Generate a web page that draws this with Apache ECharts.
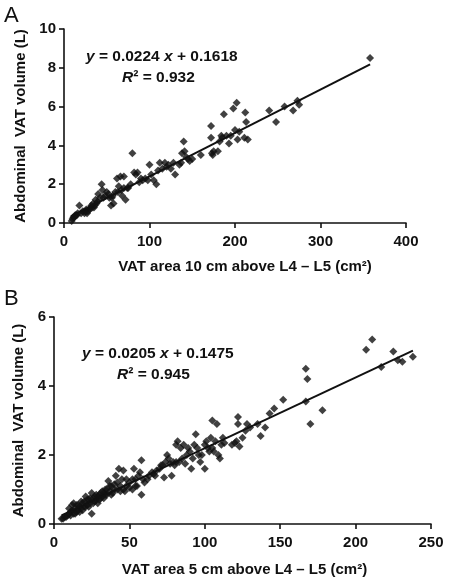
<!DOCTYPE html>
<html>
<head>
<meta charset="utf-8">
<script src="https://cdn.jsdelivr.net/npm/echarts@6/dist/echarts.min.js"></script>
<style>html,body{margin:0;padding:0;background:#fff}#c{width:451px;height:586px}</style>
</head>
<body>
<div id="c"></div>
<script>
// Panel A: VAT area 10 cm above L4-L5 (cm2) vs abdominal VAT volume (L)
const aX = [358,275,273,268,258,248,240,212,213,211,215,202,198,203,200,195,187,190,184,182,180,193,172,172,175,174,173,160,140,138,141,145,147,143,135,137,130,128,125,122,120,118,115,112,108,105,100,102,98,95,92,86,84,82,88,80,70,72,68,66,70,62,64,75,78,60,58,55,57,52,50,48,45,44,42,40,38,36,35,33,31,30,28,26,24,22,20,18,16,14,12,10,9,11,13,15,25,27,32,34,37,39,46,53,56,63,67,74,90,110,150,185,205];
const aY = [8.5,6.1,6.3,5.8,6.0,5.2,5.8,5.7,5.2,4.4,4.3,6.2,5.9,4.3,4.8,4.5,5.6,4.5,4.5,4.2,3.7,4.1,5.0,4.4,3.7,3.5,3.6,3.5,4.2,3.6,3.7,3.3,3.2,3.4,3.0,3.1,2.5,3.1,2.8,3.0,2.9,3.1,2.8,3.1,2.0,2.2,3.0,2.5,2.2,2.3,2.2,2.6,2.5,2.6,2.1,3.6,1.8,1.2,1.4,2.4,2.4,2.3,1.9,1.8,2.0,1.6,1.0,0.9,1.4,1.5,1.6,1.4,1.7,2.0,1.3,1.5,1.0,0.9,0.8,0.8,0.8,0.7,0.6,0.7,0.5,0.6,0.5,0.9,0.5,0.4,0.3,0.2,0.1,0.3,0.4,0.4,0.6,0.5,0.9,1.0,1.2,1.1,1.3,1.3,1.3,1.6,1.7,1.8,2.3,2.7,3.3,4.4,4.7];
const aSlope = 0.0224, aIntercept = 0.1618, aLineX = [8, 358];

// Panel B: VAT area 5 cm above L4-L5 (cm2) vs abdominal VAT volume (L)
const bX = [238,231,228,225,217,211,207,178,170,168,167,167,152,146,143,140,137,128,127,125,122,122,121,123,120,112,111,110,108,107,105,105,104,103,101,100,100,98,96,94,93,92,91,90,88,86,85,84,82,81,81,80,79,78,76,75,74,73,72,70,67,65,63,60,59,58,58,57,56,55,54,53,52,50,48,47,46,45,44,43,42,41,40,39,38,37,36,35,34,33,32,31,30,29,28,27,26,25,25,24,23,22,21,20,19,18,18,17,16,15,15,14,13,13,12,12,11,11,10,10,9,8,7,6,5,14,16,17,19,20,21,22,23,24,26,27,28,29,30,31,32,33,34,35,37,38,40,42,44,46,48,50,52,54,62,66,68,71,77,83,87,89,95,97,102,106,109,113,118,130,135];
const bY = [4.85,4.7,4.75,5.0,4.55,5.35,5.05,3.3,2.9,4.2,4.5,3.55,3.6,3.35,3.2,2.8,2.55,2.9,2.7,2.5,3.1,2.9,2.4,2.25,2.35,2.5,2.3,1.9,2.9,2.4,3.0,2.2,2.5,2.1,2.4,2.3,1.6,2.0,2.0,2.6,2.3,1.9,1.6,2.1,2.0,2.3,1.9,2.2,2.4,2.3,1.8,1.7,1.8,1.4,1.9,2.0,1.8,1.35,1.7,1.6,1.4,1.5,1.4,1.2,1.3,1.85,0.85,1.5,1.4,1.1,1.3,1.6,1.0,1.2,1.1,0.95,1.55,1.3,1.1,1.6,1.0,1.4,1.0,0.9,1.1,0.95,1.25,0.85,1.0,0.9,0.8,0.75,0.85,0.8,0.7,0.65,0.75,0.9,0.3,0.6,0.7,0.55,0.8,0.5,0.6,0.45,0.65,0.5,0.4,0.55,0.35,0.45,0.3,0.6,0.4,0.55,0.35,0.25,0.3,0.45,0.25,0.2,0.2,0.15,0.15,0.3,0.55,0.35,0.4,0.65,0.5,0.7,0.5,0.75,0.6,0.8,0.85,0.6,0.7,0.9,0.95,0.75,0.85,1.0,1.1,0.85,1.15,1.2,0.95,1.0,1.3,1.05,1.3,1.1,1.3,1.45,1.55,1.7,1.75,1.8,1.75,2.2,2.2,1.8,2.2,2.1,2.0,2.35,2.3,2.8,2.9];
const bSlope = 0.0205, bIntercept = 0.1475, bLineX = [5, 238];

const aTicksX = [0, 100, 200, 300, 400];
const aTicksY = [0, 2, 4, 6, 8, 10];
const bTicksX = [0, 50, 100, 150, 200, 250];
const bTicksY = [0, 2, 4, 6];

const FONT = '"Liberation Sans", Arial, sans-serif';
const zip = (xs, ys) => xs.map((x, i) => [x, ys[i]]);
const fit = (xs, m, c) => xs.map(x => [x, m * x + c]);

function xAxis(grid, ticks, name, pad, gap) {
  return {
    gridIndex: grid, type: 'value', min: ticks[0], max: ticks[ticks.length - 1],
    interval: ticks[1] - ticks[0],
    name: name, nameLocation: 'middle', nameGap: gap,
    nameTextStyle: { fontFamily: FONT, fontWeight: 'bold', fontSize: 15, color: '#111', padding: pad },
    axisLine: { lineStyle: { color: '#111', width: 1.6 } },
    axisTick: { inside: false, length: 5, lineStyle: { color: '#111', width: 1.6 } },
    axisLabel: { fontFamily: FONT, fontWeight: 'bold', fontSize: 15, color: '#111', margin: 11 },
    splitLine: { show: false }
  };
}
function yAxis(grid, ticks, name, gap) {
  return {
    gridIndex: grid, type: 'value', min: ticks[0], max: ticks[ticks.length - 1],
    interval: ticks[1] - ticks[0],
    name: name, nameLocation: 'middle', nameGap: gap, nameRotate: 90,
    nameTextStyle: { fontFamily: FONT, fontWeight: 'bold', fontSize: 15, color: '#111' },
    axisLine: { show: true, lineStyle: { color: '#111', width: 1.6 } },
    axisTick: { show: true, inside: false, length: 5, lineStyle: { color: '#111', width: 1.6 } },
    axisLabel: { fontFamily: FONT, fontWeight: 'bold', fontSize: 15, color: '#111', margin: 8 },
    splitLine: { show: false }
  };
}

const chart = echarts.init(document.getElementById('c'), null, { renderer: 'canvas' });
const rich = {
  n: { fontFamily: FONT, fontWeight: 'bold', fontSize: 15.5, fill: '#111' },
  i: { fontFamily: FONT, fontWeight: 'bold', fontStyle: 'italic', fontSize: 15.5, fill: '#111' }
};
function eqText(x, y, str) {
  return { type: 'text', left: x, top: y, style: { text: str, rich: rich, fill: '#111', font: 'bold 15.5px ' + FONT } };
}
chart.setOption({
  animation: false,
  grid: [
    { left: 64, right: 45, top: 29, height: 194 },
    { left: 54, right: 20, top: 317, height: 207 }
  ],
  xAxis: [
    xAxis(0, aTicksX, 'VAT area 10 cm above L4 – L5 (cm²)', [0, 0, 0, 20], 36),
    xAxis(1, bTicksX, 'VAT area 5 cm above L4 – L5 (cm²)', [0, 0, 0, 4], 38)
  ],
  yAxis: [
    yAxis(0, aTicksY, 'Abdominal  VAT volume (L)', 36),
    yAxis(1, bTicksY, 'Abdominal  VAT volume (L)', 26)
  ],
  series: [
    { type: 'scatter', xAxisIndex: 0, yAxisIndex: 0, data: zip(aX, aY), symbol: 'diamond', symbolSize: 8, itemStyle: { color: '#111' } },
    { type: 'line', xAxisIndex: 0, yAxisIndex: 0, data: fit(aLineX, aSlope, aIntercept), symbol: 'none', lineStyle: { color: '#111', width: 2 } },
    { type: 'scatter', xAxisIndex: 1, yAxisIndex: 1, data: zip(bX, bY), symbol: 'diamond', symbolSize: 8, itemStyle: { color: '#111' } },
    { type: 'line', xAxisIndex: 1, yAxisIndex: 1, data: fit(bLineX, bSlope, bIntercept), symbol: 'none', lineStyle: { color: '#111', width: 2 } }
  ],
  graphic: [
    { type: 'text', left: 4, top: 5, style: { text: 'A', font: '22px ' + FONT, fill: '#111' } },
    { type: 'text', left: 4, top: 288, style: { text: 'B', font: '22px ' + FONT, fill: '#111' } },
    eqText(86, 49, '{i|y} = 0.0224 {i|x} + 0.1618'),
    eqText(122, 70, '{i|R}² = 0.932'),
    eqText(82, 346, '{i|y} = 0.0205 {i|x} + 0.1475'),
    eqText(117, 367, '{i|R}² = 0.945')
  ]
});
</script>
</body>
</html>
